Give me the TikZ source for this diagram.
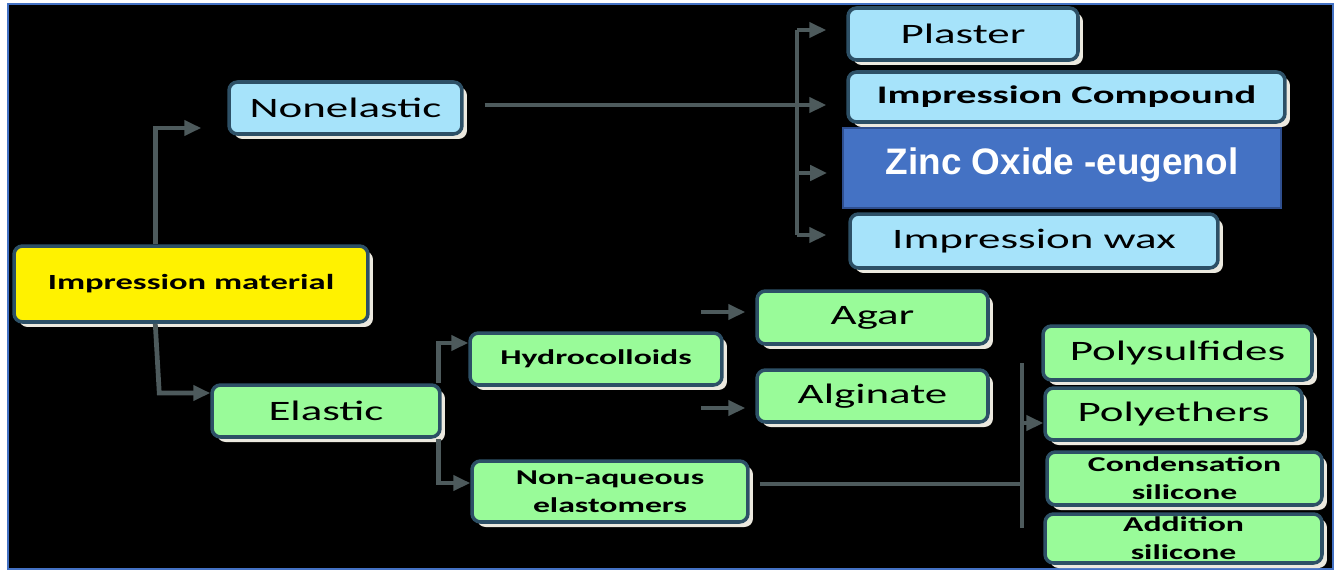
\documentclass[tikz,border=0pt]{standalone}
\usepackage{fontspec}
\usetikzlibrary{shadows,arrows.meta,calc}
\newfontfamily\calfont[FakeStretch=1.6]{Carlito}
\newfontfamily\arialfont{Liberation Sans}
\definecolor{bordc}{HTML}{2D5066}
\definecolor{lblue}{HTML}{A6E3FA}
\definecolor{lgreen}{HTML}{99FB99}
\definecolor{zincblue}{HTML}{4472C4}
\definecolor{zincbord}{HTML}{2F4F8F}
\definecolor{shadowc}{HTML}{ECE9DF}
\definecolor{connc}{HTML}{4D5A5C}
\definecolor{framec}{HTML}{4472C4}
\tikzset{
  box/.style={draw=bordc, line width=2pt, rounded corners=0.17cm, align=center, inner sep=0pt,
    drop shadow={shadow xshift=0.1cm, shadow yshift=-0.1cm, fill=shadowc, opacity=1}},
  bluebox/.style={box, fill=lblue},
  greenbox/.style={box, fill=lgreen},
  yellowbox/.style={box, fill=yellow},
  bigtext/.style={font=\calfont\fontsize{16}{19}\selectfont},
  boldtext/.style={font=\calfont\bfseries\fontsize{12}{15.8}\selectfont},
  conn/.style={draw=connc, line width=0.095cm},
  arr/.style={conn, -{Triangle[length=0.34cm,width=0.3cm]}}
}
\begin{document}
\begin{tikzpicture}[x=0.02cm,y=-0.02cm]
\fill[white] (0,0) rectangle (1337,571);
\fill[black] (8,4) rectangle (1333,569);
\draw[framec, line width=1.2pt] (8,4) rectangle (1333,569);
\useasboundingbox (0,0) rectangle (1337,571);

% nodes
\node[yellowbox, minimum width=7.08cm, minimum height=1.52cm, font=\calfont\bfseries\fontsize{12.3}{15}\selectfont] (imp) at (191,284) {Impression material};
\node[bluebox, bigtext, minimum width=4.66cm, minimum height=1.04cm] (nonel) at (345.5,108) {Nonelastic};
\node[bluebox, bigtext, minimum width=4.6cm, minimum height=1.04cm] (plaster) at (963,34) {Plaster};
\node[bluebox, font=\calfont\bfseries\fontsize{14.4}{17}\selectfont, minimum width=8.74cm, minimum height=1.0cm] (compound) at (1066.5,97) {Impression Compound};
\node[draw=zincbord, line width=1pt, fill=zincblue, text=white, font=\arialfont\bfseries\fontsize{21}{24}\selectfont, minimum width=8.76cm, minimum height=1.6cm, inner sep=0pt] (zinc) at (1062,168) {\raisebox{0.26cm}{Zinc Oxide -eugenol}};
\node[bluebox, bigtext, minimum width=7.36cm, minimum height=1.08cm] (wax) at (1034,241) {Impression wax};
\node[greenbox, bigtext, minimum width=4.56cm, minimum height=1.04cm] (elastic) at (326,411) {Elastic};
\node[greenbox, font=\calfont\bfseries\fontsize{12}{14}\selectfont, minimum width=5.04cm, minimum height=1.04cm] (hydro) at (596,359) {Hydrocolloids};
\node[greenbox, boldtext, minimum width=5.52cm, minimum height=1.22cm] (nonaq) at (610,491.5) {Non-aqueous\\elastomers};
\node[greenbox, bigtext, minimum width=4.62cm, minimum height=1.06cm] (agar) at (872.5,317.5) {Agar};
\node[greenbox, bigtext, minimum width=4.62cm, minimum height=1.04cm] (alginate) at (872.5,396) {Alginate};
\node[greenbox, bigtext, minimum width=5.38cm, minimum height=1.08cm] (polys) at (1177.5,353) {Polysulfides};
\node[greenbox, bigtext, minimum width=5.14cm, minimum height=1.04cm] (polye) at (1173.5,414) {Polyethers};
\node[greenbox, boldtext, minimum width=5.5cm, minimum height=1.06cm] (cond) at (1184.5,478.5) {Condensation\\silicone};
\node[greenbox, boldtext, minimum width=5.54cm, minimum height=0.98cm] (add) at (1183.5,538.5) {Addition\\silicone};

% connectors: impression material
\coordinate (nonelTip) at ($(nonel.west)+(-26,20)$);
\draw[arr] ($(imp.north west)+(143,0)$) |- (nonelTip);
\coordinate (elBend) at ($(elastic.west)+(-51,-18)$);
\draw[arr] ($(imp.south west)+(143,0)$) -- (elBend) -- ($(elastic.west)+(0,-18)$);

% nonelastic bus
\coordinate (busTop) at (797,30);
\coordinate (busBot) at (797,235);
\draw[conn] (busTop) -- (busBot);
\draw[arr] ($(nonel.east)+(21,-3)$) -- ($(compound.west)+(-20,8)$);
\draw[arr] (busTop) -- ($(plaster.west)+(-20,-4)$);
\draw[arr] (797,173) -- ($(zinc.west)+(-15,5)$);
\draw[arr] (busBot) -- ($(wax.west)+(-22,-6)$);

% elastic branches
\draw[arr] (elastic.north east) ++(-3,0) |- ($(hydro.west)+(0,-16)$);
\draw[arr] (elastic.south east) ++(-3,0) |- ($(nonaq.west)+(0,-8.5)$);

% hydrocolloid arrows
\coordinate (agarStart) at (701,312);
\coordinate (algStart) at (701,408);
\draw[arr] (agarStart) -- ($(agar.west)+(-10,-5.5)$);
\draw[arr] (algStart) -- ($(alginate.west)+(-10,12)$);

% elastomers bar
\coordinate (barTop) at (1022,363);
\coordinate (barBot) at (1022,528);
\draw[conn] (barTop) -- (barBot);
\draw[conn] ($(nonaq.east)+(10,-7.5)$) -- (1022,484);
\draw[arr] (1022,423) -- ($(polye.west)+(0,9)$);
\end{tikzpicture}
\end{document}
